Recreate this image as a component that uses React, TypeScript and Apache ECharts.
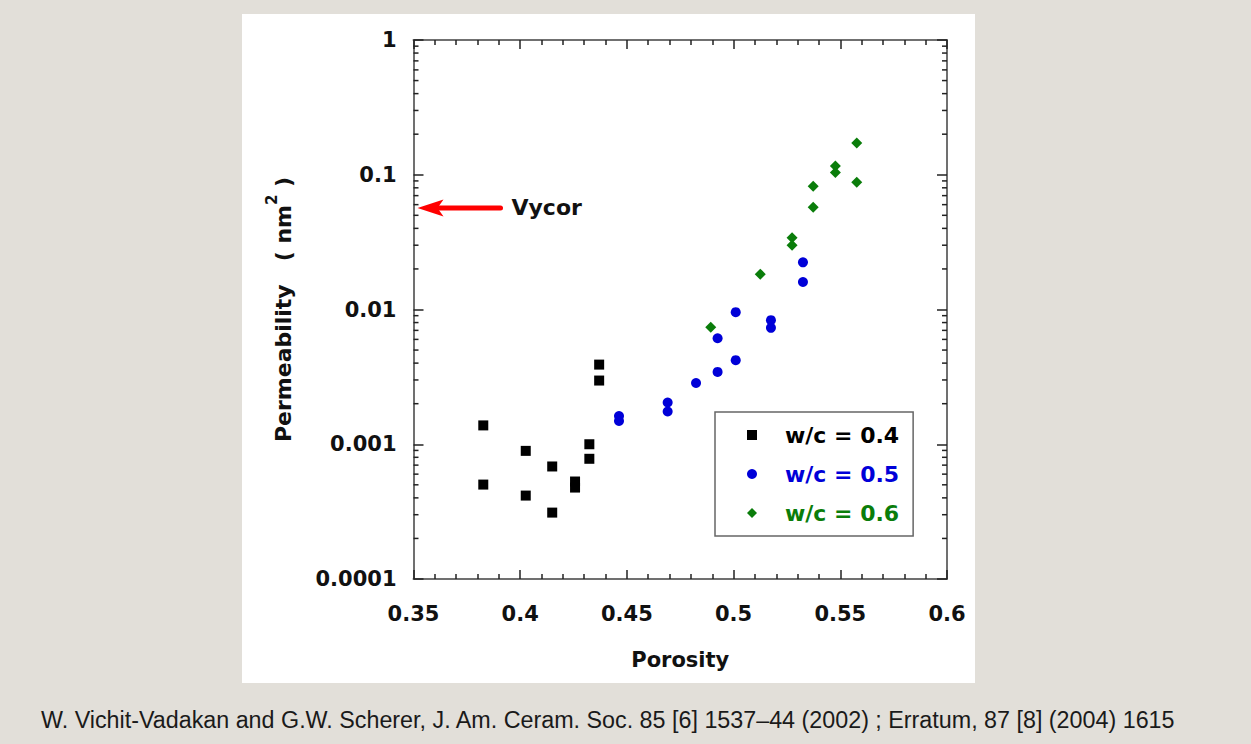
import React, { useEffect, useRef } from "react";
import * as echarts from "echarts";

// ---------- data ----------
const porosityWc04 = [0.3827, 0.3827, 0.4026, 0.4026, 0.415, 0.415, 0.4257, 0.4257, 0.4324, 0.4324, 0.437, 0.437];
const permWc04 = [0.00138, 0.000502, 0.000893, 0.000416, 0.000684, 0.000311, 0.000529, 0.000477, 0.001, 0.00078, 0.0039, 0.00297];

const porosityWc05 = [0.4463, 0.4463, 0.4691, 0.4691, 0.4824, 0.4925, 0.4925, 0.501, 0.501, 0.5175, 0.5175, 0.5325, 0.5325];
const permWc05 = [0.00162, 0.00149, 0.00204, 0.00175, 0.00285, 0.00344, 0.00612, 0.00421, 0.00955, 0.00833, 0.00731, 0.0224, 0.016];

const porosityWc06 = [0.4893, 0.5125, 0.5274, 0.5274, 0.5373, 0.5373, 0.5477, 0.5477, 0.5577, 0.5577];
const permWc06 = [0.00739, 0.0183, 0.0341, 0.03, 0.0822, 0.0574, 0.116, 0.1037, 0.172, 0.088];

const seriesNames = ["w/c = 0.4", "w/c = 0.5", "w/c = 0.6"];
const xTickLabels = ["0.35", "0.4", "0.45", "0.5", "0.55", "0.6"];
const yTickLabels = ["0.0001", "0.001", "0.01", "0.1", "1"];
const yMinorTickValues = [
  2e-4, 3e-4, 4e-4, 5e-4, 6e-4, 7e-4, 8e-4, 9e-4,
  2e-3, 3e-3, 4e-3, 5e-3, 6e-3, 7e-3, 8e-3, 9e-3,
  2e-2, 3e-2, 4e-2, 5e-2, 6e-2, 7e-2, 8e-2, 9e-2,
  2e-1, 3e-1, 4e-1, 5e-1, 6e-1, 7e-1, 8e-1, 9e-1,
];
const vycorPermeability = 0.0567;
const footerText =
  "W. Vichit-Vadakan and G.W. Scherer, J. Am. Ceram. Soc. 85 [6] 1537\u201344 (2002) ; Erratum, 87 [8] (2004) 1615";

const FONT = "DejaVu Sans";
const COL_BLACK = "#000000";
const COL_BLUE = "#0000d8";
const COL_GREEN = "#0a7d0a";

const zip = (xs: number[], ys: number[]) => xs.map((x, i) => [x, ys[i]]);

export default function App() {
  const ref = useRef<HTMLDivElement>(null);

  useEffect(() => {
    if (!ref.current) return;
    const chart = echarts.init(ref.current, null, { renderer: "svg" });

    const xMin = parseFloat(xTickLabels[0]);
    const xMax = parseFloat(xTickLabels[xTickLabels.length - 1]);
    const yMin = parseFloat(yTickLabels[0]);
    const yMax = parseFloat(yTickLabels[yTickLabels.length - 1]);

    const axisLineStyle = { color: "#707070", width: 2 };
    const tickStyle = { color: "#222", width: 1.5 };

    const xAxisCommon = {
      type: "value",
      min: xMin,
      max: xMax,
      interval: 0.05,
      splitLine: { show: false },
      axisLine: { show: true, lineStyle: axisLineStyle },
      axisTick: { show: true, inside: true, length: 9, lineStyle: tickStyle },
      minorTick: { show: true, splitNumber: 5, length: 5, lineStyle: tickStyle },
    };
    const yAxisCommon = {
      type: "log",
      logBase: 10,
      min: yMin,
      max: yMax,
      splitLine: { show: false },
      axisLine: { show: true, lineStyle: axisLineStyle },
      axisTick: { show: true, inside: true, length: 10, lineStyle: tickStyle },
      minorTick: { show: false },
    };

    const labelText = { fontFamily: FONT, fontSize: 21, fontWeight: "bold", color: "#111" };

    const option: any = {
      animation: false,
      backgroundColor: "#e2dfd9",
      grid: { left: 413.5, right: 304, top: 40, bottom: 165 },
      xAxis: [
        {
          ...xAxisCommon,
          position: "bottom",
          name: "Porosity",
          nameLocation: "middle",
          nameGap: 70,
          nameTextStyle: { ...labelText },
          axisLabel: {
            ...labelText,
            margin: 24,
            formatter: (v: number) => {
              const i = Math.round((v - xMin) / 0.05);
              return xTickLabels[i] ?? "";
            },
          },
        },
        { ...xAxisCommon, position: "top", axisLabel: { show: false } },
      ],
      yAxis: [
        {
          ...yAxisCommon,
          position: "left",
          name: "{a|Permeability   ( nm}{s|2}{a| )}",
          nameLocation: "middle",
          nameGap: 119,
          nameTextStyle: {
            ...labelText,
            rich: {
              a: { ...labelText, fontSize: 22, lineHeight: 30, verticalAlign: "bottom" },
              s: { fontFamily: FONT, fontSize: 15, fontWeight: "bold", color: "#111", lineHeight: 15, verticalAlign: "top" },
            },
          },
          axisLabel: {
            ...labelText,
            margin: 17,
            formatter: (v: number) => {
              const i = Math.round(Math.log10(v / yMin));
              return yTickLabels[i] ?? "";
            },
          },
        },
        { ...yAxisCommon, position: "right", axisLabel: { show: false } },
      ],
      legend: {
        orient: "vertical",
        left: 715,
        top: 412,
        padding: [11, 14, 11, 32],
        itemGap: 15,
        itemWidth: 10,
        itemHeight: 10,
        symbolKeepAspect: true,
        borderColor: "#666",
        borderWidth: 1.5,
        backgroundColor: "#fff",
        textStyle: { fontFamily: FONT, fontSize: 22, fontWeight: "bold", lineHeight: 24, padding: [0, 0, 0, 23] },
        data: [
          { name: seriesNames[0], textStyle: { color: COL_BLACK } },
          { name: seriesNames[1], textStyle: { color: COL_BLUE } },
          { name: seriesNames[2], textStyle: { color: COL_GREEN } },
        ],
      },
      series: [
        {
          name: seriesNames[0],
          type: "scatter",
          symbol: "rect",
          symbolSize: 10,
          itemStyle: { color: COL_BLACK, opacity: 1 },
          data: zip(porosityWc04, permWc04),
          z: 3,
        },
        {
          name: seriesNames[1],
          type: "scatter",
          symbol: "circle",
          symbolSize: 10,
          itemStyle: { color: COL_BLUE, opacity: 1 },
          data: zip(porosityWc05, permWc05),
          z: 3,
        },
        {
          name: seriesNames[2],
          type: "scatter",
          symbol: "diamond",
          symbolSize: 11,
          itemStyle: { color: COL_GREEN, opacity: 1 },
          data: zip(porosityWc06, permWc06),
          z: 3,
        },
        {
          name: "minorTicks",
          type: "custom",
          silent: true,
          z: 4,
          data: yMinorTickValues.map((v) => [xMin, v]),
          renderItem: (_params: any, api: any) => {
            const v = api.value(1);
            const l = api.coord([xMin, v]);
            const r = api.coord([xMax, v]);
            const st = { stroke: "#222", lineWidth: 1.5 };
            return {
              type: "group",
              children: [
                { type: "line", shape: { x1: l[0], y1: l[1], x2: l[0] + 5, y2: l[1] }, style: st },
                { type: "line", shape: { x1: r[0], y1: r[1], x2: r[0] - 5, y2: r[1] }, style: st },
              ],
            };
          },
        },
      ],
    };

    chart.setOption(option);

    const tip = chart.convertToPixel({ xAxisIndex: 0, yAxisIndex: 0 }, [xMin, vycorPermeability]) as number[];
    const tx = tip[0] + 4;
    const ty = tip[1];

    chart.setOption({
      graphic: [
        {
          type: "rect",
          z: -10,
          silent: true,
          shape: { x: 242, y: 14, width: 733, height: 669 },
          style: { fill: "#ffffff" },
        },
        {
          type: "line",
          z: 10,
          shape: { x1: tx + 20, y1: ty, x2: tx + 83, y2: ty },
          style: { stroke: "#ff0000", lineWidth: 5, lineCap: "round" },
        },
        {
          type: "polygon",
          z: 10,
          shape: { points: [[tx, ty], [tx + 26, ty - 8.5], [tx + 20, ty], [tx + 26, ty + 8.5]] },
          style: { fill: "#ff0000" },
        },
        {
          type: "text",
          z: 10,
          x: tx + 94,
          y: ty,
          style: {
            text: "Vycor",
            font: `bold 22px "${FONT}"`,
            fill: "#111",
            verticalAlign: "middle",
            align: "left",
          },
        },
        {
          type: "text",
          z: 10,
          x: 41,
          y: 720,
          style: {
            text: footerText,
            font: '23.3px "Liberation Sans"',
            fill: "#1a1a1a",
            verticalAlign: "middle",
            align: "left",
          },
        },
      ],
    });

    return () => chart.dispose();
  }, []);

  return (
    <div
      ref={ref}
      style={{ position: "absolute", left: 0, top: 0, width: 1251, height: 744 }}
    />
  );
}
